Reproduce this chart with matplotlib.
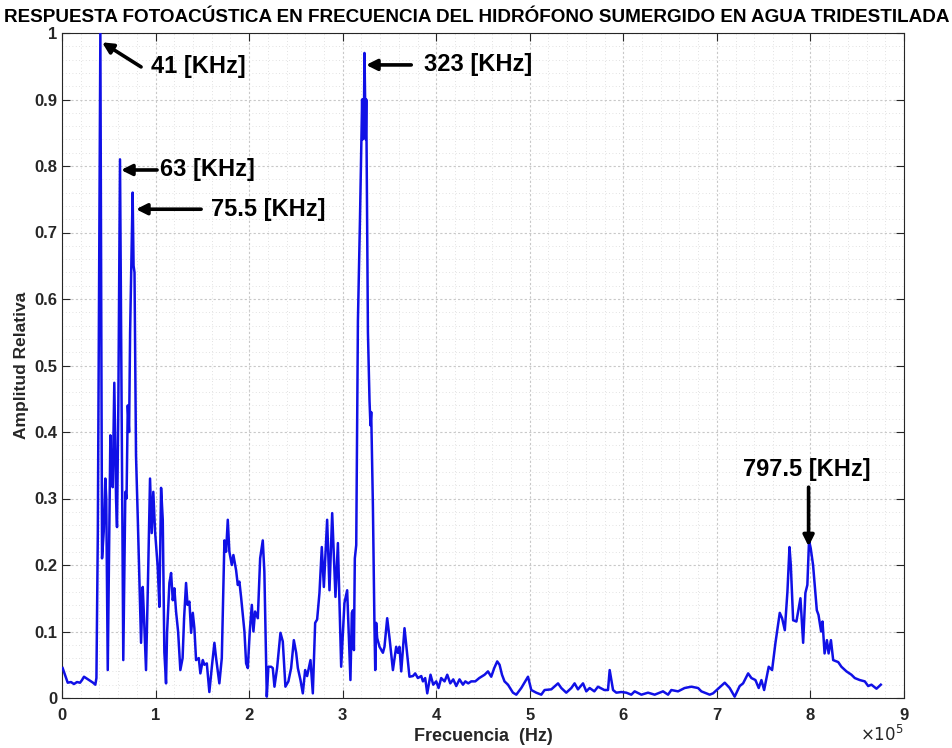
import matplotlib
matplotlib.use("Agg")
import matplotlib.pyplot as plt
from matplotlib.ticker import MultipleLocator
import numpy as np

freq_khz = [0.7, 3.2, 6.1, 9.6, 12.8, 16.0, 19.3, 21.4, 23.5, 26.7, 29.9, 33.2, 35.6, 36.8, 38.3, 41.0,
            42.8, 44.6, 46.3, 47.3, 48.9, 51.7, 52.9, 54.2, 55.9, 57.8, 58.8, 60.2, 62.0, 65.5,
            67.7, 69.0, 70.3, 71.7, 72.8, 75.5, 76.5, 77.5, 79.1, 81.0, 84.5, 86.3, 87.7, 89.8,
            91.7, 94.1, 95.9, 97.6, 99.5, 102.3, 104.1, 105.9, 107.7, 109.4, 111.2, 112.3, 114.8,
            116.6, 118.4, 120.1, 121.9, 124.1, 126.5, 128.9, 130.5, 132.6, 134.2, 136.2, 138.0,
            139.8, 141.5, 143.3, 146.2, 147.9, 150.5, 152.2, 154.8, 157.5, 160.4, 162.9, 164.7,
            168.2, 170.8, 173.6, 175.4, 177.2, 178.9, 181.5, 183.2, 186.1, 187.9, 189.6, 191.4,
            195.0, 196.8, 198.6, 200.7, 202.9, 204.6, 206.4, 209.3, 211.8, 214.6, 216.3, 218.9,
            220.6, 223.5, 225.3, 227.1, 229.9, 233.5, 236.0, 238.8, 242.0, 244.9, 247.8, 250.3,
            252.1, 254.9, 257.4, 259.9, 262.0, 265.6, 268.1, 270.6, 272.7, 275.2, 277.7, 279.9,
            283.4, 285.9, 288.8, 292.3, 294.9, 298.4, 301.9, 304.8, 308.3, 309.8, 311.0, 312.0,
            313.0, 314.5, 316.3, 318.5, 320.3, 320.8, 321.4, 322.0, 322.6, 323.3, 324.0, 324.6,
            325.2, 325.8, 327.0, 328.7, 329.7, 330.5, 332.3, 334.0, 334.8, 335.8, 336.9, 339.4,
            343.0, 344.7, 347.6, 350.1, 353.7, 357.2, 359.0, 360.7, 362.6, 366.1, 368.6, 371.4,
            375.1, 377.5, 380.4, 384.0, 385.8, 388.2, 390.4, 393.9, 396.8, 400.0, 402.5, 405.3,
            408.9, 411.8, 415.0, 418.2, 421.4, 424.9, 428.6, 431.1, 434.2, 437.4, 441.7, 446.0,
            451.7, 455.3, 458.8, 462.0, 465.2, 467.7, 470.3, 473.0, 476.7, 480.2, 482.0, 485.6,
            490.9, 495.2, 498.1, 501.6, 506.9, 512.3, 515.8, 523.0, 530.2, 533.7, 539.0, 544.4,
            547.9, 551.5, 556.9, 560.4, 564.0, 569.0, 572.9, 579.7, 583.6, 585.4, 589.0, 592.5,
            597.8, 603.2, 608.5, 612.1, 619.3, 626.4, 633.5, 642.4, 647.8, 651.3, 658.5, 665.5,
            672.7, 679.9, 683.4, 692.3, 695.9, 703.0, 708.4, 713.7, 719.0, 724.4, 728.0, 733.4,
            736.9, 741.2, 744.7, 747.6, 750.5, 755.4, 759.0, 762.6, 767.2, 769.7, 772.6, 775.4,
            777.6, 779.0, 781.5, 785.0, 789.3, 792.2, 794.6, 796.7, 798.5, 800.3, 802.8, 806.8,
            808.6, 811.4, 812.9, 815.1, 817.6, 819.4, 821.9, 824.3, 829.7, 833.1, 838.5, 843.8,
            847.4, 852.7, 858.1, 861.7, 865.2, 870.6, 875.2]

amplitude = [0.045, 0.035, 0.023, 0.024, 0.021, 0.024, 0.023, 0.027, 0.032, 0.029, 0.026, 0.023, 0.020, 0.03, 0.25, 1.0,
             0.21, 0.25, 0.33, 0.30, 0.042, 0.395, 0.34, 0.317, 0.474, 0.298, 0.257, 0.438, 0.81, 0.057,
             0.31, 0.30, 0.44, 0.40, 0.55, 0.76, 0.65, 0.64, 0.365, 0.27, 0.083, 0.167, 0.12, 0.042,
             0.162, 0.33, 0.248, 0.31, 0.25, 0.197, 0.137, 0.316, 0.268, 0.069, 0.022, 0.098, 0.173,
             0.188, 0.147, 0.165, 0.13, 0.10, 0.042, 0.06, 0.12, 0.173, 0.14, 0.145, 0.098,
             0.128, 0.105, 0.057, 0.06, 0.037, 0.057, 0.05, 0.052, 0.009, 0.05, 0.083, 0.06,
             0.022, 0.06, 0.237, 0.22, 0.268, 0.22, 0.20, 0.215, 0.192, 0.17, 0.175, 0.152,
             0.10, 0.052, 0.045, 0.10, 0.14, 0.10, 0.13, 0.12, 0.21, 0.237, 0.19, 0.002,
             0.047, 0.047, 0.045, 0.017, 0.045, 0.098, 0.085, 0.017, 0.025, 0.045, 0.087, 0.068,
             0.045, 0.027, 0.007, 0.042, 0.033, 0.057, 0.007, 0.113, 0.118, 0.158, 0.227, 0.167,
             0.268, 0.162, 0.278, 0.152, 0.233, 0.047, 0.143, 0.162, 0.027, 0.128, 0.132, 0.072,
             0.21, 0.23, 0.567, 0.72, 0.86, 0.90, 0.84, 0.90, 0.85, 0.97, 0.90, 0.84,
             0.90, 0.78, 0.55, 0.447, 0.41, 0.43, 0.29, 0.107, 0.042, 0.113, 0.09, 0.077,
             0.068, 0.077, 0.12, 0.09, 0.042, 0.077, 0.068, 0.077, 0.04, 0.105, 0.07, 0.032,
             0.033, 0.037, 0.03, 0.033, 0.025, 0.03, 0.007, 0.035, 0.02, 0.025, 0.015, 0.03,
             0.025, 0.035, 0.022, 0.028, 0.018, 0.028, 0.02, 0.025, 0.022, 0.025, 0.025, 0.03,
             0.035, 0.04, 0.032, 0.045, 0.055, 0.05, 0.035, 0.025, 0.02, 0.012, 0.008, 0.005,
             0.015, 0.025, 0.032, 0.012, 0.008, 0.005, 0.012, 0.013, 0.022, 0.015, 0.008, 0.015,
             0.022, 0.013, 0.022, 0.01, 0.015, 0.01, 0.017, 0.012, 0.012, 0.042, 0.012, 0.008,
             0.009, 0.008, 0.005, 0.01, 0.005, 0.008, 0.005, 0.01, 0.005, 0.012, 0.01, 0.015,
             0.017, 0.015, 0.01, 0.005, 0.007, 0.016, 0.023, 0.015, 0.002, 0.018, 0.022, 0.037,
             0.03, 0.027, 0.015, 0.027, 0.012, 0.047, 0.042, 0.083, 0.128, 0.12, 0.102, 0.16,
             0.227, 0.20, 0.117, 0.115, 0.15, 0.083, 0.158, 0.17, 0.237, 0.225, 0.20, 0.132,
             0.125, 0.10, 0.115, 0.067, 0.087, 0.067, 0.087, 0.057, 0.054, 0.047, 0.04, 0.035,
             0.03, 0.027, 0.025, 0.018, 0.02, 0.014, 0.02]

xtick_labels = ['0', '1', '2', '3', '4', '5', '6', '7', '8', '9']
ytick_labels = ['0', '0.1', '0.2', '0.3', '0.4', '0.5', '0.6', '0.7', '0.8', '0.9', '1']
peak_labels = ['41 [KHz]', '63 [KHz]', '75.5 [KHz]', '323 [KHz]', '797.5 [KHz]']
title = 'RESPUESTA FOTOACÚSTICA EN FRECUENCIA DEL HIDRÓFONO SUMERGIDO EN AGUA TRIDESTILADA'

plt.rcParams['font.family'] = ['Liberation Sans', 'DejaVu Sans']
tick_color = '#262626'

fig = plt.figure(figsize=(9.53, 7.48), dpi=100)
ax = fig.add_axes([62 / 953, 50 / 748, (904 - 62) / 953, (698 - 33) / 748])

f_hz = np.array(freq_khz) * 1e3
ax.plot(f_hz, amplitude, color='#1010e6', lw=1.8, zorder=3)

ax.set_xlim(0, 9e5)
ax.set_ylim(0, 1)
ax.set_xticks(np.arange(10) * 1e5)
ax.set_xticklabels(xtick_labels)
ax.set_yticks(np.arange(11) / 10)
ax.set_yticklabels(ytick_labels)
ax.xaxis.set_minor_locator(MultipleLocator(0.2e5))
ax.yaxis.set_minor_locator(MultipleLocator(0.02))

ax.grid(True, which='major', color='#c8c8c8', lw=0.8, ls=(0, (2, 2)))
ax.grid(True, which='minor', color='#d8d8d8', lw=0.6, ls=(0, (1, 3)))
ax.set_axisbelow(True)

ax.tick_params(which='both', direction='in', top=True, right=True, colors=tick_color,
               labelsize=12)
ax.tick_params(which='major', length=6, width=0.8)
ax.tick_params(axis='x', which='major', pad=7)
ax.tick_params(which='minor', length=0)
for lab in ax.get_xticklabels() + ax.get_yticklabels():
    lab.set_fontweight('bold')
for s in ax.spines.values():
    s.set_color(tick_color)
    s.set_linewidth(0.8)

ax.set_xlabel('Frecuencia  (Hz)', fontsize=13, fontweight='bold', color=tick_color, labelpad=4)
ax.set_ylabel('Amplitud Relativa', fontsize=12.5, fontweight='bold', color=tick_color, labelpad=4)
ax.text(1.0, -0.064, r'$\times10^{5}$', transform=ax.transAxes, ha='right', va='baseline',
        fontsize=12, color=tick_color)
fig.text(0.5, 0.988, title, ha='center', va='top', fontsize=13.6, fontweight='bold')

arrow = dict(arrowstyle='-|>', color='black', lw=2.6, mutation_scale=16, shrinkA=0, shrinkB=0)
fs = 17
# 41 kHz
ax.annotate('', xy=(42.8e3, 0.986), xytext=(84.5e3, 0.949), arrowprops=arrow)
ax.text(95e3, 0.950, peak_labels[0], fontsize=fs, fontweight='bold', ha='left', va='center')
# 63 kHz
ax.annotate('', xy=(63.1e3, 0.794), xytext=(101.6e3, 0.794), arrowprops=arrow)
ax.text(105e3, 0.794, peak_labels[1], fontsize=fs, fontweight='bold', ha='left', va='center')
# 75.5 kHz
ax.annotate('', xy=(79.1e3, 0.735), xytext=(148.7e3, 0.735), arrowprops=arrow)
ax.text(159e3, 0.735, peak_labels[2], fontsize=fs, fontweight='bold', ha='left', va='center')
# 323 kHz
ax.annotate('', xy=(325e3, 0.952), xytext=(373.3e3, 0.952), arrowprops=arrow)
ax.text(387e3, 0.952, peak_labels[3], fontsize=fs, fontweight='bold', ha='left', va='center')
# 797.5 kHz
ax.annotate('', xy=(798e3, 0.228), xytext=(798e3, 0.317), arrowprops=arrow)
ax.text(796e3, 0.343, peak_labels[4], fontsize=fs, fontweight='bold', ha='center', va='center')

fig.savefig('out.png', dpi=100)
